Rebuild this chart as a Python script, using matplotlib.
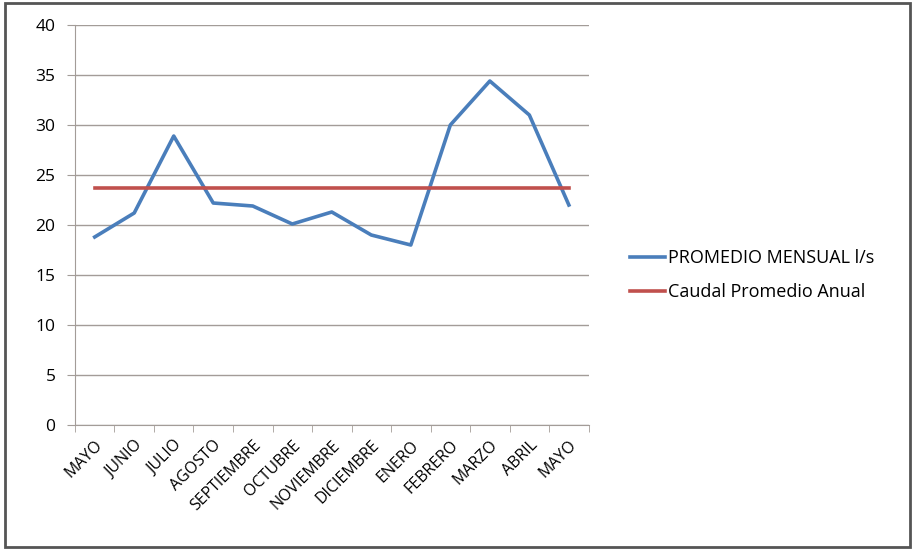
import numpy as np
import matplotlib.pyplot as plt
from matplotlib.patches import Rectangle

# datos
meses = ["MAYO", "JUNIO", "JULIO", "AGOSTO", "SEPTIEMBRE", "OCTUBRE", "NOVIEMBRE",
         "DICIEMBRE", "ENERO", "FEBRERO", "MARZO", "ABRIL", "MAYO"]
promedio_mensual = [18.8, 21.2, 28.9, 22.2, 21.9, 20.1, 21.3, 19.0, 18.0, 30.0, 34.4, 31.0, 22.0]
caudal_anual = 23.7

azul = "#4A7EBB"
rojo = "#C0504D"
gris = "#A39C98"

plt.rcParams['font.family'] = ['Open Sans', 'DejaVu Sans']

fig = plt.figure(figsize=(9.14, 5.5), dpi=100)
ax = fig.add_axes([0.082, 0.2273, 0.562, 0.7272])

x = np.arange(len(meses))
ax.plot(x, promedio_mensual, color=azul, lw=2.6, label="PROMEDIO MENSUAL l/s")
ax.plot(x, [caudal_anual] * len(meses), color=rojo, lw=2.6, label="Caudal Promedio Anual")

ax.set_xlim(-0.5, len(meses) - 0.5)
ax.set_ylim(0, 40)
ax.set_yticks(np.arange(0, 41, 5))
ax.yaxis.grid(True, color=gris, lw=1)
ax.set_axisbelow(True)

ax.set_xticks(x)
ax.set_xticklabels(meses, rotation=45, ha='right', rotation_mode='anchor', fontsize=11.5)
ax.set_xticks(np.arange(-0.5, len(meses)), minor=True)
ax.tick_params(axis='x', which='major', length=0, pad=9)
ax.tick_params(axis='x', which='minor', length=5, color=gris)
ax.tick_params(axis='y', length=6, color=gris, labelsize=12.5, pad=8)

for s in ['top', 'right']:
    ax.spines[s].set_visible(False)
for s in ['left', 'bottom']:
    ax.spines[s].set_color(gris)

fig.legend(loc='center left', bbox_to_anchor=(0.672, 0.5), frameon=False,
           fontsize=13, handlelength=1.9, handletextpad=0.2, labelspacing=0.9)

# marco exterior
fig.patches.append(Rectangle((0.006, 0.006), 0.99, 0.988, transform=fig.transFigure,
                             fill=False, edgecolor="#555555", lw=2))

fig.savefig("out.png", dpi=100)
